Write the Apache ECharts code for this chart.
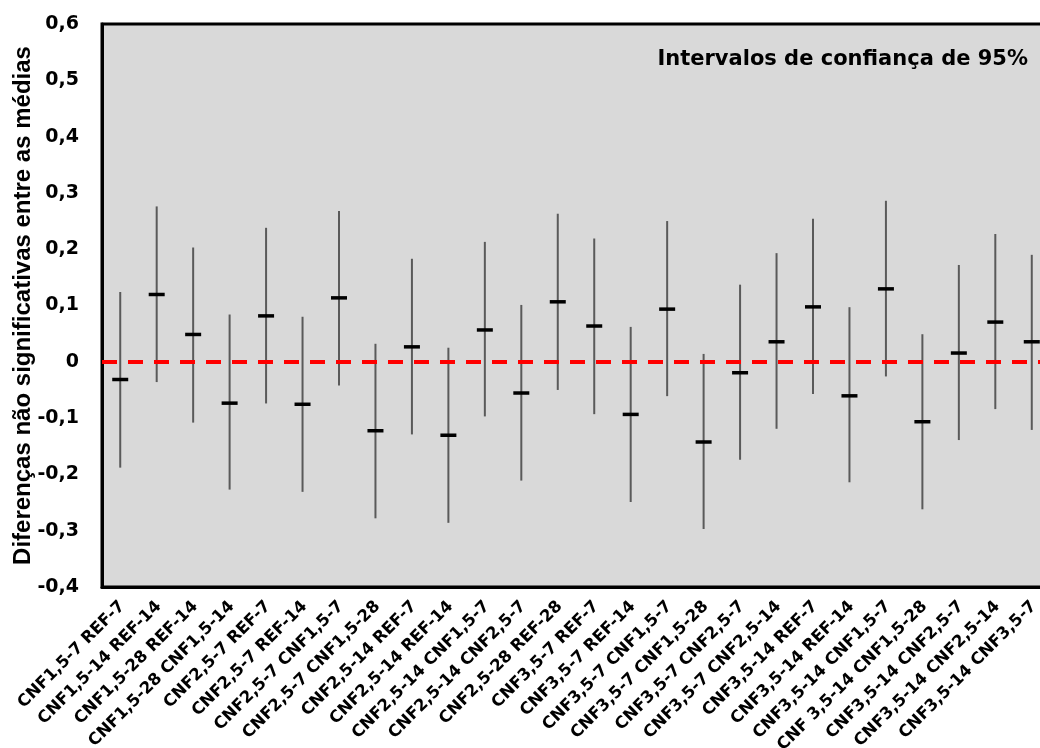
<!DOCTYPE html>
<html>
<head>
<meta charset="utf-8">
<script src="https://cdn.jsdelivr.net/npm/echarts@6/dist/echarts.min.js"></script>
<style>
html,body{margin:0;padding:0;background:#fff;}
#chart{width:1040px;height:748px;}
</style>
</head>
<body>
<div id="chart"></div>
<script>
const categories = [
  'CNF1,5-7 REF-7', 'CNF1,5-14 REF-14', 'CNF1,5-28 REF-14', 'CNF1,5-28 CNF1,5-14',
  'CNF2,5-7 REF-7', 'CNF2,5-7 REF-14', 'CNF2,5-7 CNF1,5-7', 'CNF2,5-7 CNF1,5-28',
  'CNF2,5-14 REF-7', 'CNF2,5-14 REF-14', 'CNF2,5-14 CNF1,5-7', 'CNF2,5-14 CNF2,5-7',
  'CNF2,5-28 REF-28', 'CNF3,5-7 REF-7', 'CNF3,5-7 REF-14', 'CNF3,5-7 CNF1,5-7',
  'CNF3,5-7 CNF1,5-28', 'CNF3,5-7 CNF2,5-7', 'CNF3,5-7 CNF2,5-14', 'CNF3,5-14 REF-7',
  'CNF3,5-14 REF-14', 'CNF3,5-14 CNF1,5-7', 'CNF 3,5-14 CNF1,5-28', 'CNF3,5-14 CNF2,5-7',
  'CNF3,5-14 CNF2,5-14', 'CNF3,5-14 CNF3,5-7'
];
const means = [-0.031, 0.120, 0.049, -0.073, 0.082, -0.075, 0.114, -0.122, 0.027, -0.130, 0.057, -0.055, 0.107,
  0.064, -0.093, 0.094, -0.142, -0.019, 0.036, 0.098, -0.060, 0.130, -0.106, 0.016, 0.071, 0.036];
const upper = [0.124, 0.276, 0.203, 0.084, 0.238, 0.080, 0.268, 0.032, 0.183, 0.025, 0.213, 0.101, 0.263,
  0.219, 0.062, 0.250, 0.014, 0.137, 0.193, 0.254, 0.097, 0.286, 0.049, 0.172, 0.227, 0.190];
const lower = [-0.188, -0.036, -0.108, -0.227, -0.074, -0.231, -0.042, -0.278, -0.129, -0.286, -0.097, -0.211, -0.050,
  -0.093, -0.249, -0.061, -0.297, -0.174, -0.119, -0.057, -0.214, -0.026, -0.262, -0.139, -0.084, -0.121];
const yTicks = { min: -0.4, max: 0.6, interval: 0.1 };
const yAxisTitle = 'Diferenças não significativas entre as médias';
const noteText = 'Intervalos de confiança de 95%';

const chart = echarts.init(document.getElementById('chart'), null, { renderer: 'canvas' });

const intervalData = categories.map((c, i) => [i, lower[i], upper[i]]);
const meanData = categories.map((c, i) => [i, means[i]]);

const option = {
  animation: false,
  backgroundColor: '#ffffff',
  title: {
    text: noteText,
    right: 12,
    top: 49,
    padding: 0,
    textStyle: { fontFamily: 'DejaVu Sans', fontWeight: 'bold', fontSize: 21, color: '#000' }
  },
  grid: {
    left: 102, right: -10, top: 24, bottom: 161,
    containLabel: false,
    outerBoundsMode: 'none',
    show: true, backgroundColor: '#d9d9d9', borderColor: '#000', borderWidth: 3
  },
  xAxis: {
    type: 'category',
    data: categories,
    boundaryGap: true,
    axisLine: { show: true, onZero: false, lineStyle: { color: '#000', width: 3 } },
    axisTick: { show: false },
    axisLabel: {
      interval: 0, rotate: 45, margin: 19,
      fontFamily: 'DejaVu Sans', fontWeight: 'bold', fontSize: 16.5, color: '#000',
      padding: [0, -3, 0, 0]
    },
    splitLine: { show: false }
  },
  yAxis: {
    type: 'value',
    min: yTicks.min, max: yTicks.max, interval: yTicks.interval,
    name: yAxisTitle,
    nameLocation: 'middle',
    nameGap: 67,
    nameMoveOverlap: false,
    nameTextStyle: { fontFamily: 'Liberation Sans', fontWeight: 'bold', fontSize: 24, color: '#000' },
    axisLine: { show: true, lineStyle: { color: '#000', width: 3 } },
    axisTick: { show: false },
    splitLine: { show: false },
    axisLabel: {
      margin: 23,
      fontFamily: 'DejaVu Sans', fontWeight: 'bold', fontSize: 19, color: '#000',
      formatter: function (v) {
        if (Math.abs(v) < 1e-9) return '0';
        return v.toFixed(1).replace('.', ',');
      }
    }
  },
  series: [
    {
      name: 'interval',
      type: 'custom',
      data: intervalData,
      encode: { x: 0, y: [1, 2] },
      z: 2,
      renderItem: function (params, api) {
        const p1 = api.coord([api.value(0), api.value(1)]);
        const p2 = api.coord([api.value(0), api.value(2)]);
        return {
          type: 'line',
          shape: { x1: p1[0], y1: p1[1], x2: p2[0], y2: p2[1] },
          style: { stroke: '#5a5a5a', lineWidth: 2 }
        };
      },
      markLine: {
        silent: true,
        symbol: ['none', 'none'],
        label: { show: false },
        lineStyle: { color: '#ff0000', width: 4, type: [15, 11] },
        data: [{ yAxis: 0 }],
        z: 3
      }
    },
    {
      name: 'mean',
      type: 'custom',
      data: meanData,
      encode: { x: 0, y: 1 },
      z: 4,
      renderItem: function (params, api) {
        const p = api.coord([api.value(0), api.value(1)]);
        return {
          type: 'rect',
          shape: { x: p[0] - 8, y: p[1] - 1.5, width: 16, height: 3.5 },
          style: { fill: '#000' }
        };
      }
    }
  ]
};
chart.setOption(option);
</script>
</body>
</html>
